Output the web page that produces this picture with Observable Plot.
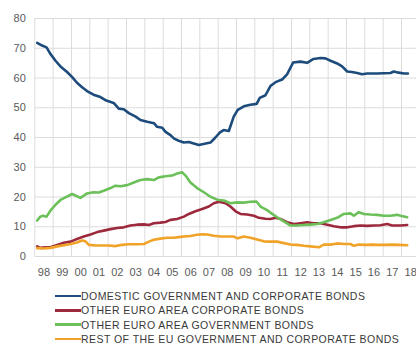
<!DOCTYPE html>
<html>
<head>
<meta charset="utf-8">
<script src="https://cdn.jsdelivr.net/npm/d3@7"></script>
<script src="https://cdn.jsdelivr.net/npm/@observablehq/plot@0.6"></script>
<style>
  html, body { margin: 0; padding: 0; background: #fff; }
  #chart { width: 416px; height: 347px; overflow: hidden; position: relative; }
  #legend { position: absolute; left: 55px; top: 289px; font-family: "Liberation Sans", Arial, sans-serif; font-size: 10.5px; letter-spacing: 0.45px; color: #3a3a3a; }
  .row { display: flex; align-items: center; height: 14.3px; }
  .sw { width: 26px; height: 2.5px; margin-right: 0px; }
</style>
</head>
<body>
<div id="chart"></div>
<script>
// Year tick labels
const yearTicks = d3.range(1998, 2019);
const yearLabels = ["98","99","00","01","02","03","04","05","06","07","08","09","10","11","12","13","14","15","16","17","18"];

// Series names and colours
const seriesNames = [
  "DOMESTIC GOVERNMENT AND CORPORATE BONDS",
  "OTHER EURO AREA CORPORATE BONDS",
  "OTHER EURO AREA GOVERNMENT BONDS",
  "REST OF THE EU GOVERNMENT AND CORPORATE BONDS"
];
const seriesColors = ["#1d4b7c", "#9c2a3c", "#6cc05a", "#f0a328"];

// Domestic government and corporate bonds
const domesticX = [1998.13,1998.4,1998.64,1998.85,1999.13,1999.4,1999.76,2000.04,2000.3,2000.58,2000.85,2001.2,2001.58,2001.9,2002.3,2002.58,2002.85,2003.13,2003.5,2003.76,2004.13,2004.5,2004.67,2004.95,2005.13,2005.4,2005.6,2005.85,2006.13,2006.4,2006.67,2006.95,2007.2,2007.58,2007.85,2008.1,2008.3,2008.58,2008.85,2009.07,2009.4,2009.76,2010.1,2010.27,2010.58,2010.85,2011.13,2011.49,2011.76,2012.09,2012.49,2012.85,2013.2,2013.58,2013.85,2014.13,2014.49,2014.76,2015.04,2015.3,2015.58,2015.85,2016.13,2016.67,2017.04,2017.4,2017.58,2017.85,2018.13,2018.35];
const domesticY = [71.8,70.9,70.3,68.1,65.8,63.9,62.0,60.3,58.4,56.9,55.6,54.4,53.6,52.4,51.6,49.7,49.5,48.2,47.0,45.9,45.3,44.8,43.6,43.3,41.9,40.8,39.6,38.9,38.3,38.5,38.0,37.5,37.8,38.3,40.0,41.7,42.5,42.2,47.0,49.3,50.5,51.0,51.3,53.3,54.2,57.3,58.6,59.5,61.2,65.2,65.5,65.1,66.4,66.7,66.6,65.8,64.9,63.9,62.2,62.0,61.7,61.25,61.5,61.5,61.6,61.7,62.2,61.8,61.5,61.5];

// Other euro area corporate bonds
const corpX = [1998.13,1998.3,1998.58,1998.85,1999.22,1999.58,1999.95,2000.3,2000.67,2001.04,2001.4,2001.76,2002.13,2002.49,2002.85,2003.22,2003.58,2003.95,2004.22,2004.49,2004.85,2005.13,2005.4,2005.76,2006.13,2006.4,2006.76,2007.13,2007.49,2007.76,2008.04,2008.4,2008.67,2008.95,2009.22,2009.58,2009.95,2010.22,2010.58,2010.85,2011.13,2011.4,2011.76,2012.13,2012.49,2012.85,2013.22,2013.58,2013.95,2014.31,2014.67,2015.04,2015.4,2015.76,2016.13,2016.49,2016.85,2017.22,2017.49,2017.95,2018.31];
const corpY = [3.4,2.9,3.1,3.1,3.9,4.6,5.0,5.9,6.7,7.4,8.2,8.7,9.2,9.6,9.8,10.4,10.7,10.8,10.6,11.2,11.4,11.6,12.3,12.6,13.4,14.3,15.2,16.0,16.8,17.9,18.4,17.9,16.8,15.2,14.3,14.1,13.7,13.0,12.7,12.6,13.0,12.6,11.5,10.9,11.2,11.5,11.2,11.2,10.7,10.2,9.8,9.8,10.2,10.4,10.3,10.4,10.5,10.9,10.4,10.4,10.6];

// Other euro area government bonds
const govX = [1998.13,1998.3,1998.45,1998.64,1998.85,1999.13,1999.4,1999.67,2000.04,2000.49,2000.85,2001.2,2001.49,2001.76,2002.13,2002.4,2002.67,2003.04,2003.4,2003.76,2004.13,2004.49,2004.76,2005.13,2005.49,2005.76,2006.04,2006.22,2006.49,2006.85,2007.22,2007.58,2007.95,2008.31,2008.67,2009.04,2009.4,2009.76,2010.09,2010.31,2010.67,2010.95,2011.22,2011.58,2011.95,2012.3,2012.67,2013.04,2013.4,2013.76,2014.13,2014.49,2014.85,2015.22,2015.4,2015.67,2015.95,2016.3,2016.67,2017.04,2017.4,2017.76,2017.95,2018.31];
const govY = [12.1,13.4,13.7,13.4,15.4,17.4,19.0,19.9,21.0,19.7,21.2,21.6,21.5,22.1,23.0,23.8,23.6,24.0,24.9,25.7,26.0,25.7,26.6,27.0,27.2,27.9,28.3,27.2,24.9,23.0,21.6,20.1,19.1,18.8,17.9,18.2,18.1,18.4,18.5,16.8,15.6,14.3,13.2,11.8,10.4,10.4,10.6,10.7,10.9,11.5,12.3,13.0,14.3,14.5,13.7,14.9,14.3,14.1,14.0,13.7,13.7,14.0,13.7,13.2];

// Rest of the EU government and corporate bonds
const restX = [1998.13,1998.49,1998.85,1999.22,1999.58,1999.95,2000.3,2000.58,2000.76,2000.95,2001.31,2001.67,2002.04,2002.4,2002.76,2003.13,2003.58,2003.95,2004.22,2004.49,2004.85,2005.22,2005.58,2005.85,2006.13,2006.49,2006.85,2007.13,2007.4,2007.76,2008.13,2008.49,2008.85,2009.07,2009.4,2009.76,2010.13,2010.49,2010.85,2011.22,2011.58,2011.95,2012.31,2012.67,2013.04,2013.49,2013.76,2014.13,2014.49,2014.85,2015.22,2015.4,2015.67,2016.04,2016.4,2016.76,2017.13,2017.49,2017.85,2018.31];
const restY = [2.8,2.7,2.9,3.4,3.8,4.2,4.7,5.4,5.1,3.9,3.7,3.7,3.7,3.5,3.9,4.1,4.1,4.2,5.0,5.6,6.0,6.3,6.3,6.5,6.7,6.9,7.3,7.5,7.4,7.0,6.7,6.7,6.7,6.1,6.7,6.3,5.7,5.1,5.0,5.0,4.5,4.0,3.9,3.6,3.4,3.1,4.0,4.0,4.4,4.2,4.2,3.6,4.0,3.9,4.0,3.9,3.9,4.0,3.9,3.8];

const yTicks = d3.range(0, 81, 10);

const xs = [domesticX, corpX, govX, restX];
const ys = [domesticY, corpY, govY, restY];
const rows = [];
seriesNames.forEach((name, i) => {
  xs[i].forEach((x, j) => rows.push({series: name, x, y: ys[i][j]}));
});

const font = "'Liberation Sans', Arial, sans-serif";

const plot = Plot.plot({
  width: 416,
  height: 282,
  marginLeft: 34.3,
  marginRight: 0,
  marginTop: 18,
  marginBottom: 26,
  style: {fontFamily: font, fontSize: "11px", color: "#555", background: "#fff"},
  x: {domain: [1998, 2018.818], axis: null},
  y: {domain: [0, 80], axis: null},
  color: {domain: seriesNames, range: seriesColors},
  marks: [
    Plot.ruleX(yearTicks, {stroke: "#dcdcdc", strokeWidth: 1}),
    Plot.ruleY(yTicks, {stroke: "#dcdcdc", strokeWidth: 1}),
    Plot.text(yTicks, {x: 1998, y: d => d, text: d => String(d), dx: -9, textAnchor: "end", fill: "#5a5a5a", fontSize: 11}),
    Plot.text(yearTicks, {x: d => d + 0.5, y: 0, text: (d, i) => yearLabels[i], dy: 16, fill: "#5a5a5a", fontSize: 11}),
    Plot.line(rows, {x: "x", y: "y", z: "series", stroke: "series", strokeWidth: 2.6, curve: "linear"})
  ]
});
const chart = document.getElementById("chart");
chart.appendChild(plot);

const legend = document.createElement("div");
legend.id = "legend";
seriesNames.forEach((name, i) => {
  const r = document.createElement("div");
  r.className = "row";
  const sw = document.createElement("span");
  sw.className = "sw";
  sw.style.background = seriesColors[i];
  const t = document.createElement("span");
  t.textContent = name;
  r.appendChild(sw); r.appendChild(t);
  legend.appendChild(r);
});
chart.appendChild(legend);
</script>
</body>
</html>
